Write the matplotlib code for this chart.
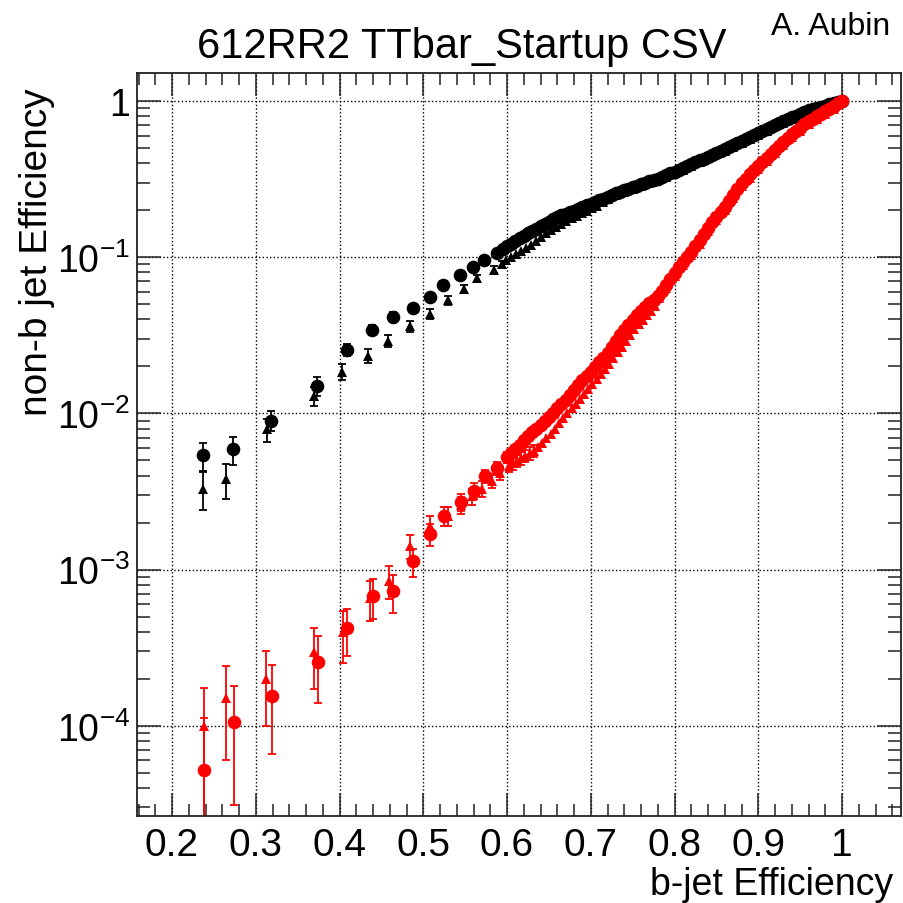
import math
import matplotlib
matplotlib.use("Agg")
from matplotlib import pyplot as plt
from matplotlib.ticker import MultipleLocator, LogLocator, FuncFormatter, NullFormatter

plt.rcParams['font.family'] = ['Liberation Sans', 'DejaVu Sans']
plt.rcParams['mathtext.fontset'] = 'custom'
plt.rcParams['mathtext.rm'] = 'Liberation Sans'
plt.rcParams['mathtext.it'] = 'Liberation Sans:italic'

# black circles (non-b eff vs b eff)
bc_x = [0.237, 0.273, 0.318, 0.373, 0.409, 0.439, 0.464, 0.488, 0.508, 0.524, 0.544, 0.559, 0.573, 0.588,
        0.595, 0.600, 0.605, 0.610, 0.615, 0.620, 0.625, 0.630, 0.635, 0.640, 0.645, 0.650, 0.655, 0.660,
        0.665, 0.670, 0.675, 0.680, 0.685, 0.690, 0.695, 0.700, 0.705, 0.710, 0.715, 0.720, 0.725, 0.730,
        0.735, 0.740, 0.745, 0.750, 0.755, 0.760, 0.765, 0.770, 0.775, 0.780, 0.785, 0.790, 0.795, 0.800,
        0.805, 0.810, 0.815, 0.820, 0.825, 0.830, 0.835, 0.840, 0.845, 0.850, 0.855, 0.860, 0.865, 0.870,
        0.875, 0.880, 0.885, 0.890, 0.895, 0.900, 0.905, 0.910, 0.915, 0.920, 0.925, 0.930, 0.935, 0.940,
        0.945, 0.950, 0.955, 0.960, 0.965, 0.970, 0.975, 0.980, 0.985, 0.990, 0.995, 1.000]
bc_y = [5.4e-3, 5.9e-3, 9.0e-3, 1.50e-2, 2.56e-2, 3.42e-2, 4.16e-2, 4.73e-2, 5.54e-2, 6.64e-2, 7.69e-2,
        8.69e-2, 9.60e-2, 0.107,
        0.113, 0.1175, 0.122, 0.127, 0.132, 0.1375, 0.142, 0.147, 0.152, 0.1575, 0.163, 0.1687, 0.1746,
        0.1803, 0.185, 0.190, 0.1945, 0.199, 0.204, 0.2094, 0.2148, 0.220, 0.2254, 0.2312, 0.237, 0.243,
        0.2495, 0.256, 0.2624, 0.2685, 0.274, 0.2805, 0.2864, 0.2924, 0.299, 0.3055, 0.312, 0.319, 0.3266,
        0.335, 0.3436, 0.3524, 0.362, 0.3724, 0.383, 0.3936, 0.4046, 0.416, 0.4276, 0.4395, 0.452, 0.4656,
        0.4786, 0.492, 0.506, 0.521, 0.5358, 0.551, 0.5689, 0.5861, 0.604, 0.6223, 0.6427, 0.6622, 0.6823,
        0.7031, 0.7228, 0.743, 0.7638, 0.7852, 0.8072, 0.8299, 0.8531, 0.873, 0.889, 0.904, 0.918, 0.935,
        0.951, 0.966, 0.984, 1.0]
bc_err = [1.1e-3, 1.2e-3, 1.3e-3, 2.0e-3, 2.2e-3, 2.6e-3, 2.8e-3, 3.0e-3, 3.3e-3, 3.6e-3, 3.9e-3, 4.1e-3,
          4.3e-3, 4.6e-3]

# black triangles
bt_x = [0.237, 0.264, 0.313, 0.369, 0.403, 0.434, 0.458, 0.484, 0.508, 0.529, 0.549, 0.564, 0.584, 0.594,
        0.599, 0.605, 0.611, 0.617, 0.623, 0.629, 0.635, 0.641, 0.647, 0.653, 0.659, 0.665, 0.671, 0.677,
        0.683, 0.689, 0.695, 0.701, 0.707, 0.714, 0.721, 0.730, 0.740, 0.750, 0.760, 0.770, 0.780, 0.790,
        0.800, 0.810, 0.820, 0.830, 0.840, 0.850, 0.860, 0.870, 0.880, 0.890, 0.900, 0.910, 0.920, 0.930,
        0.940, 0.950, 0.960, 0.970, 0.980, 0.990, 0.997]
bt_y = [3.3e-3, 3.8e-3, 7.9e-3, 1.30e-2, 1.85e-2, 2.34e-2, 2.92e-2, 3.61e-2, 4.33e-2, 5.32e-2, 6.26e-2,
        7.33e-2, 8.32e-2, 9.04e-2,
        0.0955, 0.101, 0.1054, 0.110, 0.115, 0.1205, 0.1274, 0.1343, 0.142, 0.1496, 0.156, 0.163, 0.170,
        0.177, 0.184, 0.191, 0.198, 0.2056, 0.2138, 0.2244, 0.236, 0.250, 0.2624, 0.274, 0.2858, 0.2985,
        0.312, 0.327, 0.344, 0.364, 0.3846, 0.4064, 0.4295, 0.455, 0.481, 0.509, 0.538, 0.573, 0.608, 0.647,
        0.687, 0.726, 0.767, 0.811, 0.853, 0.887, 0.920, 0.955, 0.984]
bt_err = [0.9e-3, 0.95e-3, 1.3e-3, 1.8e-3, 2.1e-3, 2.3e-3, 2.6e-3, 2.9e-3, 3.2e-3, 3.5e-3, 3.8e-3, 4.1e-3,
          4.4e-3, 4.6e-3]

# red circles
rc_x = [0.238, 0.274, 0.319, 0.374, 0.409, 0.440, 0.464, 0.488, 0.508, 0.525, 0.545, 0.560, 0.574, 0.588,
        0.600, 0.605, 0.610, 0.615, 0.620, 0.625, 0.630, 0.635, 0.640, 0.645, 0.650, 0.655, 0.660, 0.665,
        0.670, 0.675, 0.680, 0.685, 0.690, 0.695, 0.700, 0.705, 0.710, 0.715, 0.720, 0.725, 0.730, 0.735,
        0.740, 0.745, 0.750, 0.755, 0.760, 0.765, 0.770, 0.775, 0.780, 0.785, 0.790, 0.795, 0.800, 0.805,
        0.810, 0.815, 0.820, 0.825, 0.830, 0.835, 0.840, 0.845, 0.850, 0.855, 0.860, 0.865, 0.870, 0.875,
        0.880, 0.885, 0.890, 0.895, 0.900, 0.905, 0.910, 0.915, 0.920, 0.925, 0.930, 0.935, 0.940, 0.945,
        0.950, 0.955, 0.960, 0.965, 0.970, 0.975, 0.980, 0.985, 0.990, 0.995, 1.000]
rc_y = [5.2e-5, 1.05e-4, 1.56e-4, 2.57e-4, 4.2e-4, 6.75e-4, 7.26e-4, 1.13e-3, 1.69e-3, 2.21e-3, 2.70e-3,
        3.20e-3, 3.96e-3, 4.45e-3, 5.24e-3,
        5.58e-3, 5.94e-3, 6.32e-3, 6.71e-3, 7.14e-3, 7.55e-3, 7.96e-3, 8.39e-3, 8.95e-3, 9.53e-3, 1.01e-2,
        1.076e-2, 1.145e-2, 1.219e-2, 1.309e-2, 1.416e-2, 1.528e-2, 1.637e-2, 1.742e-2, 1.849e-2, 1.972e-2,
        2.118e-2, 2.270e-2, 2.438e-2, 2.655e-2, 2.891e-2, 3.155e-2, 3.404e-2, 3.681e-2, 3.972e-2, 4.236e-2,
        4.498e-2, 4.786e-2, 5.070e-2, 5.346e-2, 5.636e-2, 6.095e-2, 6.607e-2, 7.244e-2, 7.943e-2, 8.610e-2,
        9.290e-2, 0.1005, 0.1084, 0.1175, 0.128, 0.140, 0.1545, 0.167, 0.180, 0.1936, 0.209, 0.2286, 0.250,
        0.273, 0.2985, 0.319, 0.339, 0.360, 0.382, 0.4055, 0.4305, 0.456, 0.484, 0.514, 0.546, 0.579, 0.611,
        0.641, 0.674, 0.708, 0.741, 0.769, 0.800, 0.830, 0.863, 0.895, 0.929, 0.966, 1.0]
rc_err = [6.0e-5, 7.4e-5, 9.0e-5, 1.17e-4, 1.4e-4, 1.9e-4, 2.0e-4, 2.3e-4, 2.7e-4, 3.0e-4, 3.3e-4, 3.6e-4,
          4.0e-4, 4.3e-4, 4.6e-4]

# red triangles
rt_x = [0.238, 0.264, 0.312, 0.369, 0.404, 0.436, 0.459, 0.484, 0.508, 0.530, 0.545, 0.558, 0.570, 0.582,
        0.592, 0.602,
        0.607, 0.612, 0.617, 0.622, 0.627, 0.632, 0.637, 0.642, 0.647, 0.652, 0.657, 0.662, 0.667, 0.672,
        0.677, 0.682, 0.687, 0.692, 0.697, 0.702, 0.707, 0.712, 0.717, 0.722, 0.727, 0.732, 0.737, 0.742,
        0.747, 0.752, 0.757, 0.762, 0.767, 0.772, 0.777, 0.782, 0.790, 0.800, 0.810, 0.820, 0.830, 0.840,
        0.850, 0.860, 0.870, 0.880, 0.890, 0.900, 0.910, 0.920, 0.930, 0.940, 0.950, 0.960, 0.970, 0.980,
        0.990, 0.996]
rt_y = [1.0e-4, 1.5e-4, 2.0e-4, 2.98e-4, 3.96e-4, 6.55e-4, 8.5e-4, 1.42e-3, 1.91e-3, 2.20e-3, 2.6e-3,
        2.95e-3, 3.3e-3, 3.71e-3, 4.15e-3, 4.63e-3,
        4.81e-3, 4.98e-3, 5.16e-3, 5.36e-3, 5.56e-3, 5.77e-3, 6.05e-3, 6.49e-3, 6.95e-3, 7.43e-3, 8.0e-3,
        8.63e-3, 9.33e-3, 1.005e-2, 1.076e-2, 1.153e-2, 1.236e-2, 1.327e-2, 1.426e-2, 1.535e-2, 1.652e-2,
        1.778e-2, 1.914e-2, 2.075e-2, 2.259e-2, 2.455e-2, 2.673e-2, 2.917e-2, 3.177e-2, 3.467e-2, 3.741e-2,
        3.981e-2, 4.236e-2, 4.498e-2, 4.898e-2, 5.47e-2, 6.31e-2, 7.59e-2, 8.91e-2, 0.1035, 0.122, 0.1476,
        0.1718, 0.1995, 0.2388, 0.285, 0.3236, 0.3648, 0.411, 0.4624, 0.521, 0.586, 0.647, 0.711, 0.767,
        0.828, 0.891, 0.955]
rt_err = [7.5e-5, 9.0e-5, 1.0e-4, 1.25e-4, 1.45e-4, 1.85e-4, 2.0e-4, 2.5e-4, 2.8e-4, 3.0e-4, 3.3e-4, 3.5e-4,
          3.7e-4, 3.9e-4, 4.1e-4, 4.4e-4, 4.6e-4, 4.7e-4, 4.8e-4, 4.9e-4, 5.0e-4, 5.1e-4]

fig = plt.figure(figsize=(9.04, 9.04), dpi=100)
ax = fig.add_axes([137/904, 1-817/904, 764/904, 743/904])
ax.set_yscale('log')


def draw(xs, ys, errs, color, marker, ms):
    # error bars only where they are visible, the rest just markers
    n = len(errs)
    ax.errorbar(xs[:n], ys[:n], yerr=errs, fmt='none', ecolor=color,
                elinewidth=1.3, capsize=3, capthick=1.3)
    ax.plot(xs, ys, marker, color=color, ms=ms, mew=0, linestyle='none')


draw(bc_x, bc_y, bc_err, 'black', 'o', 9.8)
draw(bt_x, bt_y, bt_err, 'black', '^', 7.8)
draw(rc_x, rc_y, rc_err, 'red', 'o', 9.8)
draw(rt_x, rt_y, rt_err, 'red', '^', 7.8)

ax.set_xlim(0.1582, 1.0704)
ax.set_ylim(2.646e-5, 1.511)

ax.xaxis.set_major_locator(MultipleLocator(0.1))
ax.xaxis.set_minor_locator(MultipleLocator(0.02))
ax.yaxis.set_major_locator(LogLocator(base=10, numticks=10))
ax.yaxis.set_minor_locator(LogLocator(base=10, subs=range(2, 10), numticks=20))
ax.yaxis.set_minor_formatter(NullFormatter())


def ylab(v, pos):
    if abs(v - 1) < 1e-9:
        return '1'
    return r'$\mathregular{10^{%d}}$' % round(math.log10(v))


def xlab(v, pos):
    return '1' if abs(v - 1) < 1e-9 else '%.1f' % v


ax.yaxis.set_major_formatter(FuncFormatter(ylab))
ax.xaxis.set_major_formatter(FuncFormatter(xlab))

ax.tick_params(which='both', direction='in', top=True, right=True, width=1.1, color='#222222')
ax.tick_params(axis='x', which='major', length=16.5, labelsize=28, pad=8)
ax.tick_params(axis='x', which='minor', length=8.6)
ax.tick_params(axis='y', which='major', length=17.5, labelsize=27, pad=5)
ax.tick_params(axis='y', which='minor', length=9.2)
for s in ax.spines.values():
    s.set_linewidth(1.3)
    s.set_color('#222222')

ax.grid(True, which='major', linestyle=':', color='black', linewidth=1.0)
ax.set_axisbelow(True)

fig.text(462/904, 1-58/904, '612RR2 TTbar_Startup CSV', ha='center', va='baseline', fontsize=30)
fig.text(890/904, 1-35/904, 'A. Aubin', ha='right', va='baseline', fontsize=23)
fig.text(893/904, 1-895/904, 'b-jet Efficiency', ha='right', va='baseline', fontsize=27)
fig.text(37/904, 1-88/904, 'non-b jet Efficiency', ha='center', va='top', rotation=90, fontsize=28)

fig.savefig('out.png', dpi=100, facecolor='white')
